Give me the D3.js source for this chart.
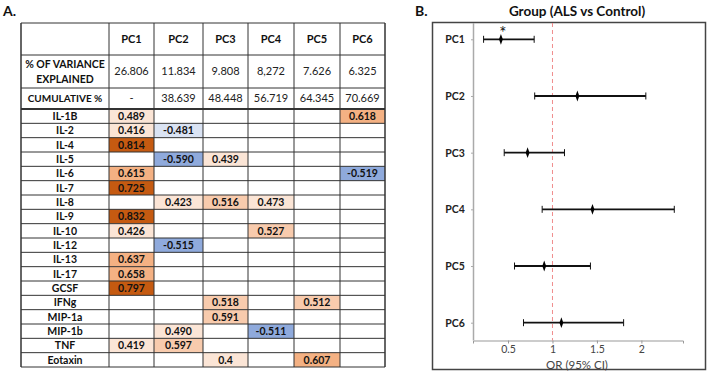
<!DOCTYPE html>
<html lang="en">
<head>
<meta charset="UTF-8">
<title>PCA loadings and OR</title>
<script src="https://d3js.org/d3.v7.min.js"></script>
<style>
  body { margin: 0; padding: 0; background: #fff; }
  svg { display: block; font-family: 'Lato', 'Open Sans', sans-serif; }
  .lbl { font-weight: bold; fill: #111; }
</style>
</head>
<body>
<svg id="chart" width="708" height="372"></svg>
<script>
// ---- data ----
var components = ["PC1", "PC2", "PC3", "PC4", "PC5", "PC6"];
var varianceExplained = ["26.806", "11.834", "9.808", "8,272", "7.626", "6.325"];
var cumulative = ["-", "38.639", "48.448", "56.719", "64.345", "70.669"];
var cytokines = ["IL-1B", "IL-2", "IL-4", "IL-5", "IL-6", "IL-7", "IL-8", "IL-9", "IL-10",
                 "IL-12", "IL-13", "IL-17", "GCSF", "IFNg", "MIP-1a", "MIP-1b", "TNF", "Eotaxin"];
// loadings, one row per cytokine, one column per PC ("" = blank)
var loadings = [
  ["0.489", "", "", "", "", "0.618"],
  ["0.416", "-0.481", "", "", "", ""],
  ["0.814", "", "", "", "", ""],
  ["", "-0.590", "0.439", "", "", ""],
  ["0.615", "", "", "", "", "-0.519"],
  ["0.725", "", "", "", "", ""],
  ["", "0.423", "0.516", "0.473", "", ""],
  ["0.832", "", "", "", "", ""],
  ["0.426", "", "", "0.527", "", ""],
  ["", "-0.515", "", "", "", ""],
  ["0.637", "", "", "", "", ""],
  ["0.658", "", "", "", "", ""],
  ["0.797", "", "", "", "", ""],
  ["", "", "0.518", "", "0.512", ""],
  ["", "", "0.591", "", "", ""],
  ["", "0.490", "", "-0.511", "", ""],
  ["0.419", "0.597", "", "", "", ""],
  ["", "", "0.4", "", "0.607", ""]
];
// forest plot: odds ratio and 95% CI per PC
var orPoint = [0.42, 1.28, 0.72, 1.45, 0.907, 1.10];
var orLow   = [0.225, 0.80, 0.457, 0.884, 0.573, 0.674];
var orHigh  = [0.794, 2.05, 1.135, 2.37, 1.427, 1.80];
var significant = ["PC1"];
var orTicks = [0.5, 1, 1.5, 2];

var svg = d3.select("#chart");

// ================= panel A : table =================
svg.append("text").attr("class", "lbl").attr("x", 3).attr("y", 16)
  .style("font-size", "14px").text("A.");

var colEdges = [21, 109, 154, 203, 248, 294, 340, 385];
var colX = d3.scaleOrdinal().domain(components).range(colEdges.slice(1, 7));
var colW = function(i) { return colEdges[i + 2] - colEdges[i + 1]; };
var headTop = 23, headRows = [23, 55, 88, 109];
var rowY = d3.scaleBand().domain(cytokines).range([109, 367]);

var color = d3.scaleThreshold()
  .domain([-0.5, -0.45, 0, 0.5, 0.6, 0.7])
  .range(["#8faadc", "#dae3f3", "#fff", "#fbe5d6", "#f8cbad", "#f4b183", "#c55a11"]);

var tbl = svg.append("g");

// coloured cells
var cells = [];
loadings.forEach(function(row, r) {
  row.forEach(function(v, c) {
    cells.push({ cyt: cytokines[r], pc: components[c], ci: c, text: v });
  });
});
tbl.selectAll("rect.cell").data(cells.filter(function(d) { return d.text !== ""; }))
  .enter().append("rect").attr("class", "cell")
  .attr("x", function(d) { return colX(d.pc); })
  .attr("y", function(d) { return rowY(d.cyt); })
  .attr("width", function(d) { return colW(d.ci); })
  .attr("height", rowY.bandwidth())
  .attr("fill", function(d) { return color(+d.text); });

tbl.selectAll("text.val").data(cells.filter(function(d) { return d.text !== ""; }))
  .enter().append("text").attr("class", "lbl")
  .attr("x", function(d) { return colX(d.pc) + colW(d.ci) / 2; })
  .attr("y", function(d) { return rowY(d.cyt) + rowY.bandwidth() / 2; })
  .attr("dy", "0.36em").attr("text-anchor", "middle")
  .style("font-size", "10.5px")
  .text(function(d) { return d.text; });

// row labels
tbl.selectAll("text.cyt").data(cytokines).enter().append("text").attr("class", "lbl")
  .attr("x", (colEdges[0] + colEdges[1]) / 2)
  .attr("y", function(d) { return rowY(d) + rowY.bandwidth() / 2; })
  .attr("dy", "0.36em").attr("text-anchor", "middle")
  .style("font-size", "10.5px").text(function(d) { return d; });

// header rows
tbl.selectAll("text.pc").data(components).enter().append("text").attr("class", "lbl")
  .attr("x", function(d, i) { return colX(d) + colW(i) / 2; })
  .attr("y", (headRows[0] + headRows[1]) / 2).attr("dy", "0.36em")
  .attr("text-anchor", "middle").style("font-size", "11px").text(function(d) { return d; });

tbl.selectAll("text.var").data(varianceExplained).enter().append("text")
  .attr("x", function(d, i) { return colX(components[i]) + colW(i) / 2; })
  .attr("y", (headRows[1] + headRows[2]) / 2).attr("dy", "0.36em")
  .attr("text-anchor", "middle").attr("fill", "#222").style("font-size", "11px")
  .text(function(d) { return d; });

tbl.selectAll("text.cum").data(cumulative).enter().append("text")
  .attr("x", function(d, i) { return colX(components[i]) + colW(i) / 2; })
  .attr("y", (headRows[2] + headRows[3]) / 2).attr("dy", "0.36em")
  .attr("text-anchor", "middle").attr("fill", "#222").style("font-size", "11px")
  .text(function(d) { return d; });

var lx = (colEdges[0] + colEdges[1]) / 2;
var vmid = (headRows[1] + headRows[2]) / 2;
tbl.append("text").attr("class", "lbl").attr("x", lx).attr("y", vmid - 7.5).attr("dy", "0.36em")
  .attr("text-anchor", "middle").style("font-size", "10.5px").text("% OF VARIANCE");
tbl.append("text").attr("class", "lbl").attr("x", lx).attr("y", vmid + 7.5).attr("dy", "0.36em")
  .attr("text-anchor", "middle").style("font-size", "10.5px").text("EXPLAINED");
tbl.append("text").attr("class", "lbl").attr("x", lx).attr("y", (headRows[2] + headRows[3]) / 2)
  .attr("dy", "0.36em").attr("text-anchor", "middle").style("font-size", "10px").text("CUMULATIVE %");

// grid lines
var hLines = headRows.concat(cytokines.slice(1).map(function(d) { return rowY(d); })).concat([367]);
tbl.selectAll("line.h").data(hLines).enter().append("line")
  .attr("x1", colEdges[0]).attr("x2", colEdges[7])
  .attr("y1", function(d) { return d; }).attr("y2", function(d) { return d; })
  .attr("stroke", "#333").attr("stroke-width", function(d) { return d === 109 ? 2 : 1; });
tbl.selectAll("line.v").data(colEdges).enter().append("line")
  .attr("x1", function(d) { return d; }).attr("x2", function(d) { return d; })
  .attr("y1", headTop).attr("y2", 367)
  .attr("stroke", "#333").attr("stroke-width", function(d, i) { return (i === 0 || i === 7) ? 1.5 : 1; });

// ================= panel B : forest plot =================
svg.append("text").attr("class", "lbl").attr("x", 415).attr("y", 16)
  .style("font-size", "14px").text("B.");
svg.append("rect").attr("x", 432.5).attr("y", 22.5).attr("width", 273).attr("height", 347)
  .attr("fill", "none").attr("stroke", "#444").attr("stroke-width", 1.5);
svg.append("text").attr("class", "lbl").attr("x", 577).attr("y", 15.5)
  .attr("text-anchor", "middle").style("font-size", "13.5px").text("Group (ALS vs Control)");

var x = d3.scaleLinear().domain([0.106, 2.468]).range([473, 683]);
var y = d3.scalePoint().domain(components).range([39.3, 322.7]);
var plotBottom = 340.5;

// axes
var xAxis = svg.append("g").attr("transform", "translate(0," + plotBottom + ")")
  .call(d3.axisBottom(x).tickValues(orTicks).tickSize(3).tickPadding(2).tickFormat(d3.format("")));
xAxis.select(".domain").attr("stroke", "#999");
xAxis.selectAll(".tick line").attr("stroke", "#999");
xAxis.selectAll("text").attr("fill", "#444").style("font-size", "10.5px")
  .style("font-family", "'Lato', sans-serif");

var yAxis = svg.append("g").attr("transform", "translate(473,0)")
  .call(d3.axisLeft(y).tickSize(2).tickPadding(8));
yAxis.select(".domain").attr("d", "M0.5,23V" + plotBottom).attr("stroke", "#aaa").attr("stroke-width", 1.5);
yAxis.selectAll(".tick line").attr("stroke", "#aaa");
yAxis.selectAll("text").attr("fill", "#222").style("font-size", "10.5px")
  .style("font-weight", "bold").style("font-family", "'Lato', sans-serif").attr("text-anchor", "middle").attr("dx", "-8");

svg.append("text").attr("x", 577).attr("y", 368.5).attr("text-anchor", "middle")
  .attr("fill", "#444").style("font-size", "11.5px").text("OR (95% CI)");

// reference line at OR = 1
svg.append("line").attr("x1", x(1)).attr("x2", x(1)).attr("y1", 23).attr("y2", plotBottom)
  .attr("stroke", "#f08c8c").attr("stroke-width", 1).attr("stroke-dasharray", "4,3");

// error bars
var est = components.map(function(pc, i) {
  return { pc: pc, or: orPoint[i], lo: orLow[i], hi: orHigh[i] };
});
var bars = svg.selectAll("g.est").data(est).enter().append("g")
  .attr("transform", function(d) { return "translate(0," + y(d.pc) + ")"; });
bars.append("line").attr("x1", function(d) { return x(d.lo); }).attr("x2", function(d) { return x(d.hi); })
  .attr("stroke", "#111").attr("stroke-width", 1.8);
bars.append("line").attr("x1", function(d) { return x(d.lo); }).attr("x2", function(d) { return x(d.lo); })
  .attr("y1", -3.5).attr("y2", 3.5).attr("stroke", "#111").attr("stroke-width", 1);
bars.append("line").attr("x1", function(d) { return x(d.hi); }).attr("x2", function(d) { return x(d.hi); })
  .attr("y1", -3.5).attr("y2", 3.5).attr("stroke", "#111").attr("stroke-width", 1);
bars.append("path").attr("d", d3.symbol(d3.symbolDiamond, 20))
  .attr("transform", function(d) { return "translate(" + x(d.or) + ",0) scale(0.8,1.3)"; })
  .attr("fill", "#000");

bars.filter(function(d) { return significant.indexOf(d.pc) >= 0; })
  .append("text").attr("x", function(d) { return x((d.lo + d.hi) / 2) - 6; }).attr("y", 0)
  .attr("text-anchor", "middle").attr("fill", "#111").style("font-size", "17px").text("*");
</script>
</body>
</html>
